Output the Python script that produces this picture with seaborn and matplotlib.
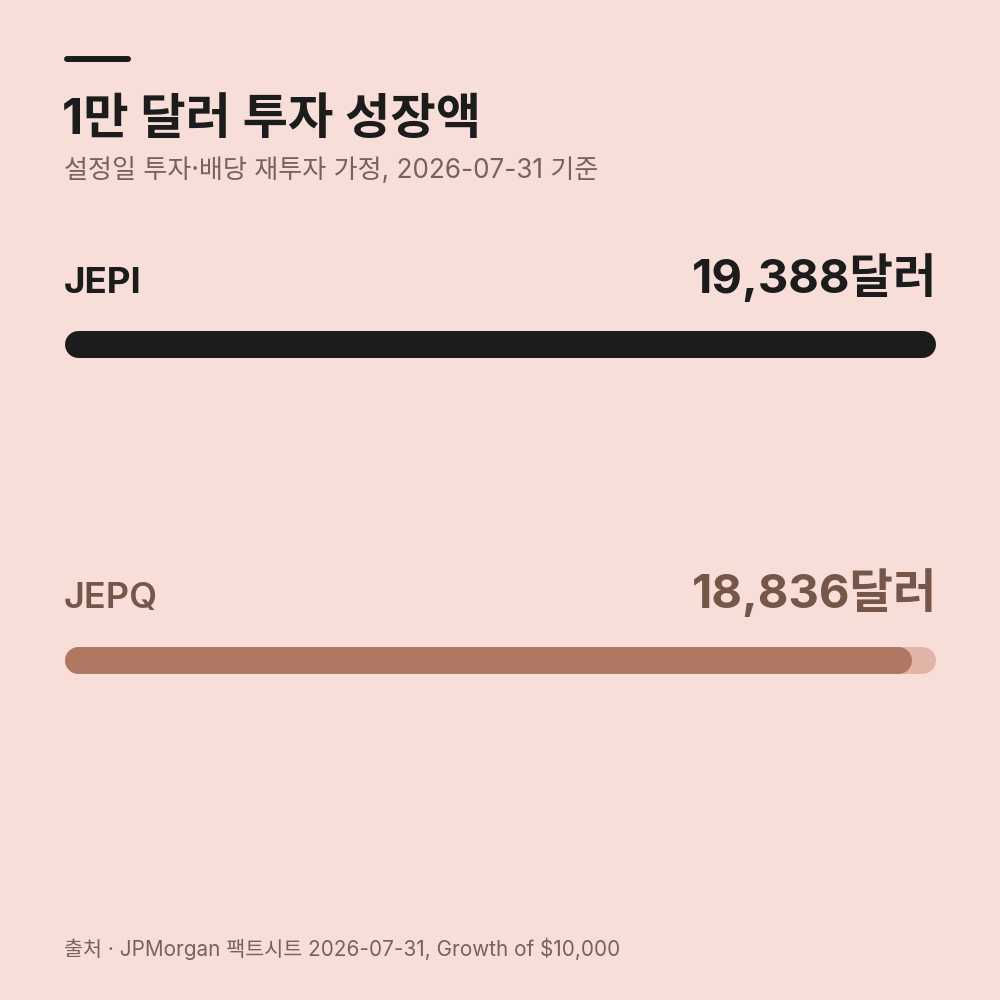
import matplotlib
matplotlib.use("Agg")
import matplotlib.pyplot as plt
import seaborn as sns
import pandas as pd

# data
tickers = ["JEPI", "JEPQ"]
values = [19388, 18836]
value_labels = ["19,388달러", "18,836달러"]

title = "1만 달러 투자 성장액"
subtitle = "설정일 투자·배당 재투자 가정, 2026-07-31 기준"
source = "출처 · JPMorgan 팩트시트 2026-07-31, Growth of $10,000"

BG = "#F8DED8"
DARK = "#1C1C1C"
BROWN = "#765649"
BAR2 = "#B07763"
TRACK = "#E0B4A7"
MUTED = "#7A615A"

sns.set_theme(style="white")
plt.rcParams["font.family"] = ["Inter", "Noto Sans CJK KR", "DejaVu Sans"]

W = H = 1000
fig = plt.figure(figsize=(10, 10), dpi=100, facecolor=BG)

def fy(px):
    return 1 - px / H

def fx(px):
    return px / W

# accent line
fig.add_artist(plt.Line2D([fx(67), fx(128)], [fy(59), fy(59)], color=DARK,
                          lw=4.3, solid_capstyle="round"))
fig.text(fx(62), fy(134), title, fontsize=35.5, fontweight="bold", color=DARK,
         va="baseline", ha="left")
fig.text(fx(64), fy(178), subtitle, fontsize=18.8, color=MUTED,
         va="baseline", ha="left")
fig.text(fx(64), fy(956), source, fontsize=14.9, color=MUTED,
         va="baseline", ha="left")

# bars axes: x 64..936 px, y 300..700 px
top_px, bot_px = 300, 700
ax = fig.add_axes([fx(64), fy(bot_px), fx(936 - 64), (bot_px - top_px) / H])
ax.set_facecolor("none")

df = pd.DataFrame({"ticker": tickers, "value": values})
track = pd.DataFrame({"ticker": tickers, "value": [max(values)] * len(values)})

unit = 315  # px per category step
bar_px = 27
bar_h = bar_px / unit
sns.barplot(data=track, x="value", y="ticker", color=TRACK, width=bar_h,
            saturation=1, ax=ax, orient="h")
sns.barplot(data=df, x="value", y="ticker", hue="ticker",
            palette=[DARK, BAR2], width=bar_h, saturation=1, ax=ax,
            orient="h", legend=False)

xmax = max(values)
ax.set_xlim(0, xmax)
ax.set_ylim(1 + (bot_px - 659.5) / unit, -(344.5 - top_px) / unit)
ax.axis("off")

# turn each bar into a pill: round-capped line over the same extent
x_per_px = xmax / 872
r = bar_px / 2 * x_per_px
lw_pt = bar_px * 72 / 100
for p in list(ax.patches):
    x0, w = p.get_x(), p.get_width()
    yc = p.get_y() + p.get_height() / 2
    ax.plot([x0 + r, x0 + w - r], [yc, yc], color=p.get_facecolor(),
            lw=lw_pt, solid_capstyle="round", zorder=p.get_zorder(),
            clip_on=False)
    p.remove()

# labels
label_y = [293, 608]
name_colors = [DARK, BROWN]
for i, t in enumerate(tickers):
    fig.text(fx(64), fy(label_y[i]), t, fontsize=26.5 if i == 0 else 26,
             fontweight="bold" if i == 0 else 600,
             color=name_colors[i], va="baseline", ha="left")
    fig.text(fx(937), fy(label_y[i]), value_labels[i], fontsize=34,
             fontweight="bold", color=name_colors[i], va="baseline", ha="right")

fig.savefig("out.png", dpi=100, facecolor=BG)
